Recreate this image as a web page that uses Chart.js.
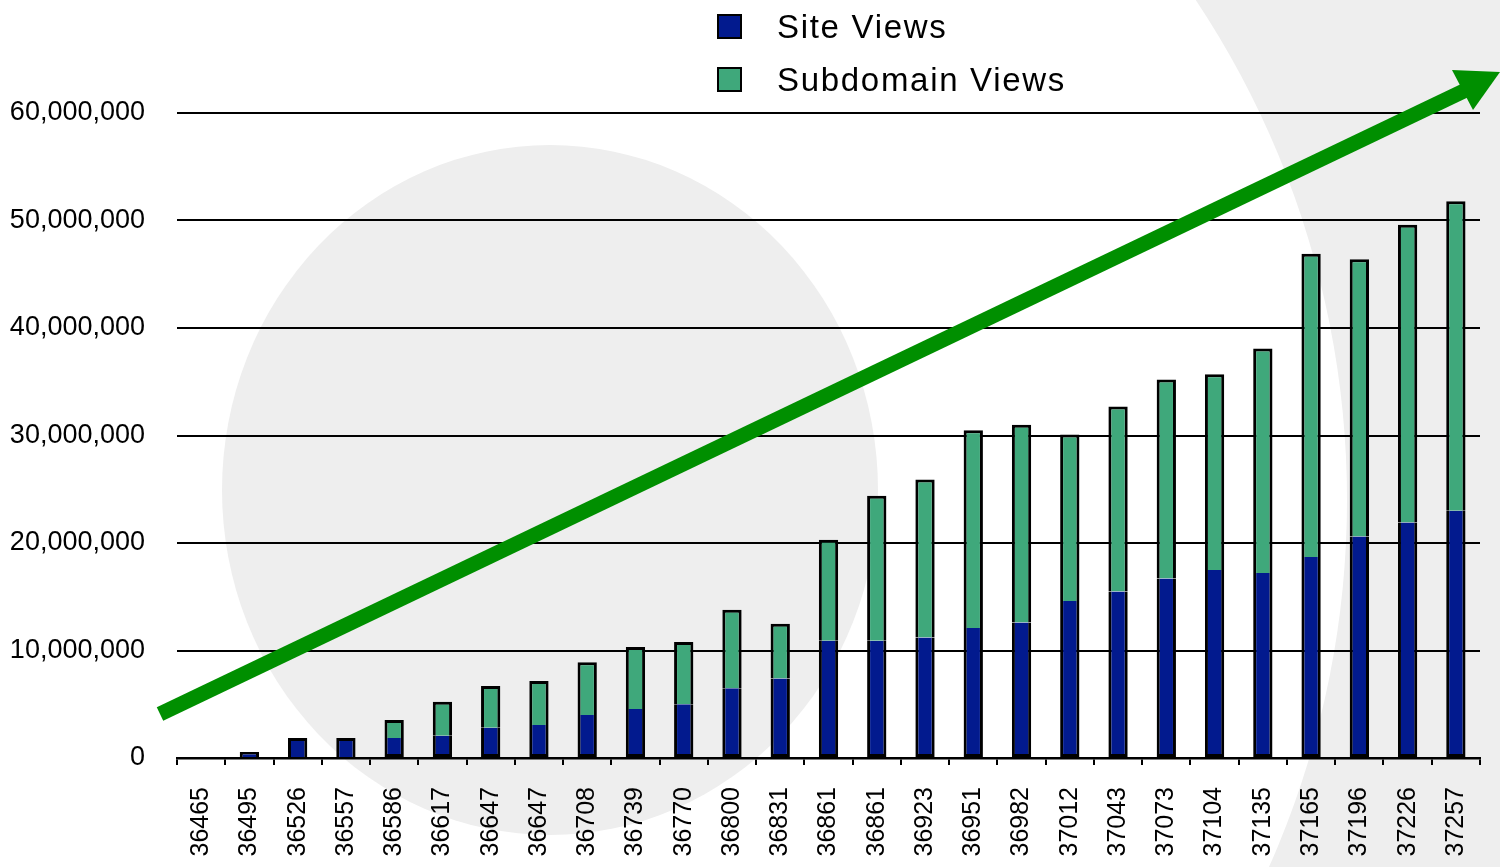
<!DOCTYPE html>
<html>
<head>
<meta charset="utf-8">
<script src="https://cdn.jsdelivr.net/npm/chart.js@4"></script>
<style>
  body { margin: 0; background: #fff; }
  #wrap { position: relative; width: 1500px; height: 867px; }
  #legend { position: absolute; left: 717px; top: 0px; font-family: "Liberation Sans", Arial, sans-serif; font-size: 33px; letter-spacing: 1.7px; color: #000; }
  #legend div { display: flex; align-items: center; height: 53px; }
  #legend span.box { display: inline-block; width: 21px; height: 21px; border: 2px solid #000; margin-right: 35px; }
</style>
</head>
<body>
<div id="wrap">
  <canvas id="myChart" width="1500" height="867"></canvas>
  <div id="legend"></div>
</div>
<script>
// DATA
const categories = [
  "36465", "36495", "36526", "36557", "36586", "36617", "36647", "36647", "36708",
  "36739", "36770", "36800", "36831", "36861", "36861", "36923", "36951", "36982",
  "37012", "37043", "37073", "37104", "37135", "37165", "37196", "37226", "37257",
];
const siteViews = [
  0, 560000, 1860000, 1860000, 1860000, 2070000, 2820000, 3070000, 4000000,
  4560000, 5000000, 6500000, 7400000, 10900000, 10900000, 11200000, 12100000, 12600000,
  14600000, 15500000, 16700000, 17500000, 17200000, 18700000, 20600000, 21900000, 23000000,
];
const subdomainViews = [
  0, 0, 0, 0, 1670000, 3170000, 3880000, 4090000, 4900000,
  5770000, 5800000, 7300000, 5100000, 9400000, 13500000, 14700000, 18400000, 18400000,
  15500000, 17200000, 18500000, 18200000, 20900000, 28200000, 25800000, 27700000, 28800000,
];
const yTicks = [0, 10000000, 20000000, 30000000, 40000000, 50000000, 60000000];

const seriesNames = ["Site Views", "Subdomain Views"];
const seriesColors = ["#021a8e", "#3fa87b"];
const FONT = "'Liberation Sans', Arial, sans-serif";

// legend
const legend = document.getElementById("legend");
seriesNames.forEach((name, i) => {
  legend.innerHTML += '<div><span class="box" style="background:' + seriesColors[i] + '"></span>' + name + "</div>";
});

// background shapes
const backdrop = {
  id: "backdrop",
  beforeDraw(chart) {
    const c = chart.ctx;
    c.save();
    c.fillStyle = "#eeeeee";
    c.fillRect(0, 0, chart.width, chart.height);
    c.fillStyle = "#ffffff";
    c.beginPath();
    c.arc(445, 500, 902, 0, Math.PI * 2);
    c.fill();
    c.fillStyle = "#eeeeee";
    c.beginPath();
    c.ellipse(550, 490, 328, 345, 0, 0, Math.PI * 2);
    c.fill();
    c.restore();
  },
};

// big green trend arrow
const trendArrow = {
  id: "trendArrow",
  afterDatasetsDraw(chart) {
    const c = chart.ctx;
    c.save();
    c.strokeStyle = "#008f00";
    c.fillStyle = "#008f00";
    c.lineWidth = 15;
    c.beginPath();
    c.moveTo(160, 714);
    c.lineTo(1468, 89);
    c.stroke();
    c.beginPath();
    c.moveTo(1500, 72);
    c.lineTo(1452, 70);
    c.lineTo(1473, 110);
    c.closePath();
    c.fill();
    c.restore();
  },
};

const ctx = document.getElementById("myChart");

new Chart(ctx, {
  type: "bar",
  data: {
    labels: categories,
    datasets: [
      {
        label: seriesNames[0],
        data: siteViews,
        backgroundColor: seriesColors[0],
        borderColor: "#000",
        borderWidth: 3,
        borderSkipped: (c) => (subdomainViews[c.dataIndex] > 0 ? "top" : "bottom"),
      },
      {
        label: seriesNames[1],
        data: subdomainViews,
        backgroundColor: seriesColors[1],
        borderColor: "#000",
        borderWidth: 3,
        borderSkipped: "bottom",
      },
    ],
  },
  options: {
    responsive: false,
    animation: false,
    barPercentage: 0.4,
    categoryPercentage: 1,
    layout: { padding: { top: 113, right: 20, left: 0, bottom: 0 } },
    plugins: {
      legend: { display: false },
      tooltip: { enabled: false },
    },
    scales: {
      x: {
        stacked: true,
        afterFit: (s) => { s.height = 109; s.paddingRight = 0; s.paddingLeft = 0; },
        border: { display: true, color: "#000", width: 2.5 },
        grid: { offset: true, drawOnChartArea: false, drawTicks: true, tickLength: 7, color: "#000", lineWidth: 2 },
        ticks: { color: "#000", font: { family: FONT, size: 25 }, minRotation: 90, maxRotation: 90, padding: 22, autoSkip: false },
      },
      y: {
        stacked: true,
        min: 0,
        max: 60000000,
        afterFit: (s) => { s.width = 177; s.paddingTop = 0; s.paddingBottom = 0; },
        afterBuildTicks: (s) => { s.ticks = yTicks.map((v) => ({ value: v })); },
        border: { display: false },
        grid: { color: "#000", lineWidth: 2, drawTicks: false },
        ticks: {
          color: "#000",
          padding: 32,
          font: { family: FONT, size: 27 },
          callback: (v) => v.toLocaleString("en-US"),
        },
      },
    },
  },
  plugins: [backdrop, trendArrow],
});
</script>
</body>
</html>
